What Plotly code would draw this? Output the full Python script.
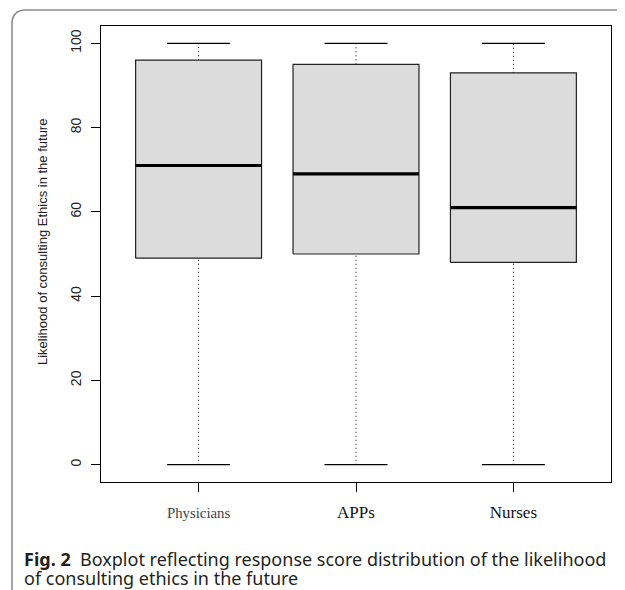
import plotly.graph_objects as go

# ---- data ----
groups = ["Physicians", "APPs", "Nurses"]
positions = [1, 2, 3]
mins = [0, 0, 0]
q1s = [49, 50, 48]
medians = [71, 69, 61]
q3s = [96, 95, 93]
maxs = [100, 100, 100]
y_ticks = [0, 20, 40, 60, 80, 100]
y_title = "Likelihood of consulting Ethics in the future"
caption_bold = "Fig. 2"
caption_rest = "  Boxplot reflecting response score distribution of the likelihood"
caption_line2 = "of consulting ethics in the future"

# ---- layout constants (page pixels; body margin of 8px compensated) ----
OFF = 8
W, H = 625 - OFF, 590 - OFF
ML, MR, MT, MB = 93, 14, 18, 108
PW, PH = W - ML - MR, H - MT - MB
BOX_HALF = 0.4
CAP_HALF = 0.2


def px(x):
    return (x - OFF - ML) / PW


def py(y):
    return 1 - (y - OFF - MT) / PH


fig = go.Figure()

for pos, lo, a, m, b, hi in zip(positions, mins, q1s, medians, q3s, maxs):
    # whiskers (dotted)
    for y0, y1 in ((b, hi), (lo, a)):
        fig.add_trace(go.Scatter(x=[pos, pos], y=[y0, y1], mode="lines",
                                 line=dict(color="black", width=1, dash="1px,3px"),
                                 hoverinfo="skip", showlegend=False))
    # caps
    for v in (lo, hi):
        fig.add_trace(go.Scatter(x=[pos - CAP_HALF, pos + CAP_HALF], y=[v, v], mode="lines",
                                 line=dict(color="black", width=1.3),
                                 hoverinfo="skip", showlegend=False))
    # box
    fig.add_trace(go.Scatter(
        x=[pos - BOX_HALF, pos + BOX_HALF, pos + BOX_HALF, pos - BOX_HALF, pos - BOX_HALF],
        y=[a, a, b, b, a], mode="lines", fill="toself", fillcolor="#DCDCDC",
        line=dict(color="#222222", width=1.2), hoverinfo="skip", showlegend=False))
    # median
    fig.add_trace(go.Scatter(x=[pos - BOX_HALF, pos + BOX_HALF], y=[m, m], mode="lines",
                             line=dict(color="black", width=3.2),
                             hoverinfo="skip", showlegend=False))

tick_sizes = [14.8, 17, 17]
tick_colors = ["#444", "#111", "#111"]
ticktext = [f'<span style="font-size:{s}px;color:{c}">{g}</span>'
            for g, s, c in zip(groups, tick_sizes, tick_colors)]

fig.update_layout(
    width=W, height=H,
    margin=dict(l=ML, r=MR, t=MT, b=MB, pad=0),
    paper_bgcolor="white", plot_bgcolor="white",
    showlegend=False,
    xaxis=dict(range=[0.38, 3.62], tickvals=positions, ticktext=ticktext,
               showgrid=False, zeroline=False, showline=True, mirror=True,
               linecolor="black", linewidth=1.2, ticks="outside", ticklen=9,
               tickcolor="black", tickwidth=1,
               tickfont=dict(family="Liberation Serif, Times New Roman, serif", size=17, color="#222"),
               ticklabelstandoff=5),
    yaxis=dict(range=[-4.1, 104.1], tickvals=y_ticks, ticktext=[str(v) for v in y_ticks],
               showgrid=False, zeroline=False, showline=True, mirror=True,
               linecolor="black", linewidth=1.2, ticks="outside", ticklen=9,
               tickcolor="black", tickwidth=1, tickangle=-90,
               tickfont=dict(family="Liberation Sans, Arial, sans-serif", size=14, color="#222"),
               ticklabelstandoff=4),
)

# y-axis title
fig.add_annotation(x=px(43), y=py(242), xref="paper", yref="paper", xanchor="center", yanchor="middle",
                   text=y_title, textangle=-90, showarrow=False,
                   font=dict(family="Liberation Sans, Arial, sans-serif", size=13, color="#222"))

# outer rounded border of the figure panel
path = (f"M {px(12)} {py(600)} L {px(12)} {py(24)} "
        f"Q {px(12)} {py(10)} {px(26)} {py(10)} L {px(640)} {py(10)}")
fig.add_shape(type="path", path=path, xref="paper", yref="paper",
              line=dict(color="#8a8a8a", width=1.6), layer="above")

# caption
fig.add_annotation(x=px(22), y=py(559), xref="paper", yref="paper", xanchor="left", yanchor="middle",
                   text=f"<b>{caption_bold}</b>{caption_rest}", showarrow=False, align="left",
                   font=dict(family="Noto Sans, Open Sans, sans-serif", size=18, color="#231f20"))
fig.add_annotation(x=px(22), y=py(578), xref="paper", yref="paper", xanchor="left", yanchor="middle",
                   text=caption_line2, showarrow=False, align="left",
                   font=dict(family="Noto Sans, Open Sans, sans-serif", size=18, color="#231f20"))

fig.write_html("out.html")
